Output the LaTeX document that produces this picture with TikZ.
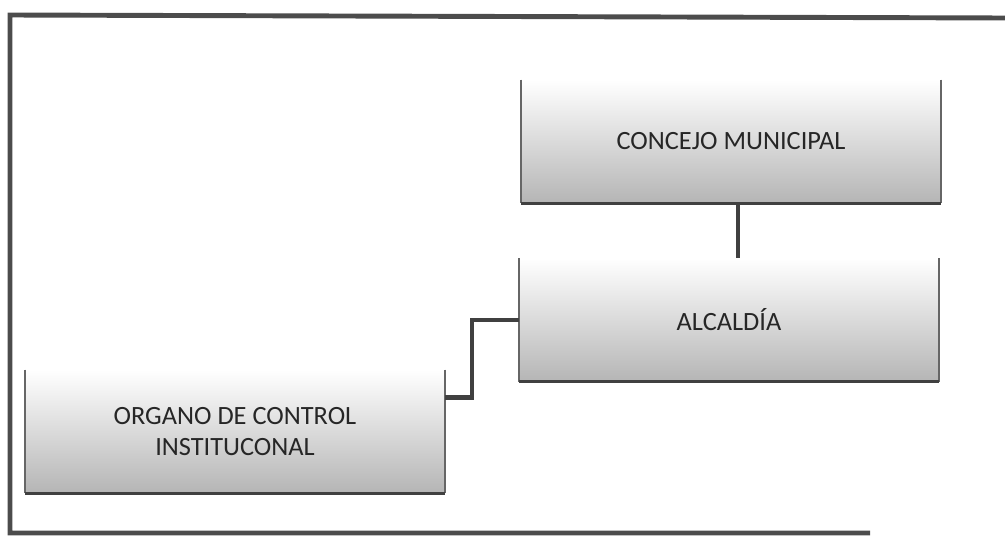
\documentclass[tikz,border=0pt]{standalone}
\usepackage{fontspec}
\setmainfont{Carlito}
\usepackage{xcolor}
\usetikzlibrary{calc}

\definecolor{inkgray}{gray}{0.25}
\tikzset{
  unitbox/.style={minimum width=8.38cm,minimum height=2.46cm,inner sep=0pt,
    top color=white,bottom color=gray!58,shading angle=0,
    font=\fontsize{15}{18}\selectfont,text=black!85,align=center},
  boxside/.style={draw=gray!80!black,line width=0.9pt},
  boxfoot/.style={draw=inkgray,line width=1.6pt},
  link/.style={draw=inkgray,line width=2.4pt},
}

\begin{document}
\begin{tikzpicture}[x=0.02cm,y=-0.02cm]
\useasboundingbox (0,0) rectangle (1005,537);
% outer frame, open on the right
\draw[gray!60!black,line width=2.8pt] (1005,18) -- (10,15) -- (10,533) -- (870,533);

% boxes
\node[unitbox] (concejo) at (731,141.5) {CONCEJO MUNICIPAL};
\node[unitbox] (alcaldia) at (729,320) {ALCALD\'IA};
\node[unitbox] (organo) at (235,431.5) {ORGANO DE CONTROL\\INSTITUCONAL};

\foreach \b in {concejo,alcaldia,organo}{
  \draw[boxside] (\b.north west) -- (\b.south west);
  \draw[boxside] (\b.north east) -- (\b.south east);
  \draw[boxfoot] (\b.south west) -- (\b.south east);
}

% connectors
\draw[link] ($(concejo.south)+(7,0)$) -- ($(alcaldia.north)+(9,0)$);
\draw[link] (alcaldia.west) -- ++(-47,0) |- ($(organo.east)+(0,-34)$);
\end{tikzpicture}
\end{document}
